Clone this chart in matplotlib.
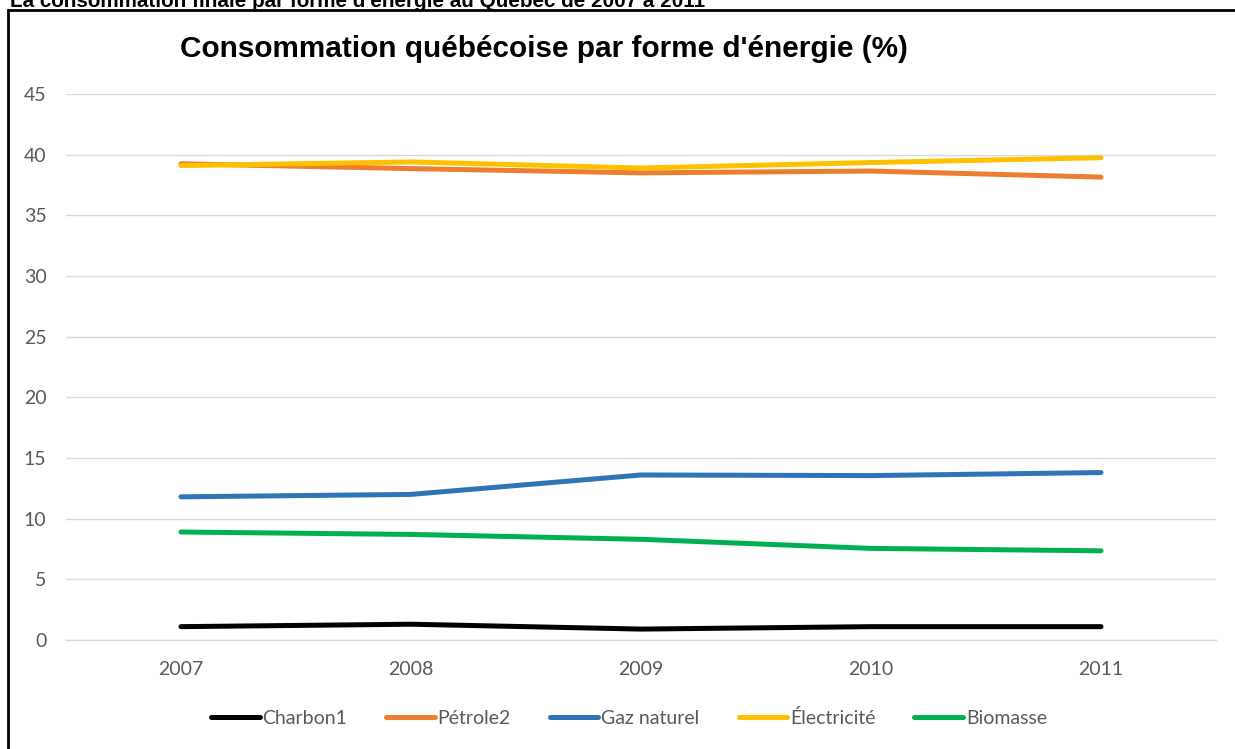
import matplotlib
matplotlib.use("Agg")
import matplotlib.pyplot as plt
from matplotlib.patches import Rectangle

years = ["2007", "2008", "2009", "2010", "2011"]
charbon = [1.1, 1.3, 0.9, 1.1, 1.1]
petrole = [39.25, 38.85, 38.5, 38.65, 38.15]
gaz = [11.8, 12.0, 13.6, 13.55, 13.8]
electricite = [39.1, 39.4, 38.9, 39.35, 39.75]
biomasse = [8.9, 8.7, 8.3, 7.55, 7.35]

series_names = ["Charbon1", "Pétrole2", "Gaz naturel", "Électricité", "Biomasse"]
series_vals = [charbon, petrole, gaz, electricite, biomasse]
colors = ["#000000", "#ED7D31", "#2E75B6", "#FFC000", "#00B050"]

title = "Consommation québécoise par forme d'énergie (%)"
caption = "La consommation finale par forme d'énergie au Québec de 2007 à 2011"
yticks = [0, 5, 10, 15, 20, 25, 30, 35, 40, 45]

W, H = 1235, 749
fig = plt.figure(figsize=(W / 100, H / 100), dpi=100)
ax = fig.add_axes([66 / W, 1 - 640 / H, (1216 - 66) / W, (640 - 94) / H])

x = list(range(len(years)))
for name, vals, c in zip(series_names, series_vals, colors):
    ax.plot(x, vals, color=c, lw=3.6, solid_capstyle="round", solid_joinstyle="round", label=name)

ax.set_xlim(-0.5, len(years) - 0.5)
ax.set_ylim(0, 45)
ax.set_yticks(yticks)
ax.set_xticks(x)
ax.set_xticklabels(years)
ax.grid(axis="y", color="#D9D9D9", lw=1.0)
ax.set_axisbelow(True)
for s in ["top", "right", "left"]:
    ax.spines[s].set_visible(False)
ax.spines["bottom"].set_color("#D9D9D9")
ax.spines["bottom"].set_linewidth(1.0)
ax.tick_params(axis="both", length=0, labelcolor="#595959", labelsize=14)
ax.tick_params(axis="y", pad=14)
ax.tick_params(axis="x", pad=15)
for lab in ax.get_xticklabels() + ax.get_yticklabels():
    lab.set_fontfamily("Lato")

leg = fig.legend(loc="center", bbox_to_anchor=(629 / W, 1 - 718 / H), ncol=5, frameon=False,
                 prop={"family": "Lato", "size": 14}, handlelength=2.5, handletextpad=0.15,
                 columnspacing=2.0)
for t in leg.get_texts():
    t.set_color("#595959")

fig.text(180 / W, 1 - 57 / H, title, fontsize=21.4, fontweight="bold",
         family="Liberation Sans", ha="left", va="baseline", color="black")
fig.text(10 / W, 1 - 7 / H, caption, fontsize=14.9, fontweight="bold",
         family="Liberation Sans", ha="left", va="baseline", color="black")

fig.add_artist(Rectangle((8 / W, -0.2), 1.5, 1.2 + (1 - 10 / H) - 1.0, transform=fig.transFigure,
                         fill=False, ec="black", lw=2.0))

fig.savefig("out.png", dpi=100)
